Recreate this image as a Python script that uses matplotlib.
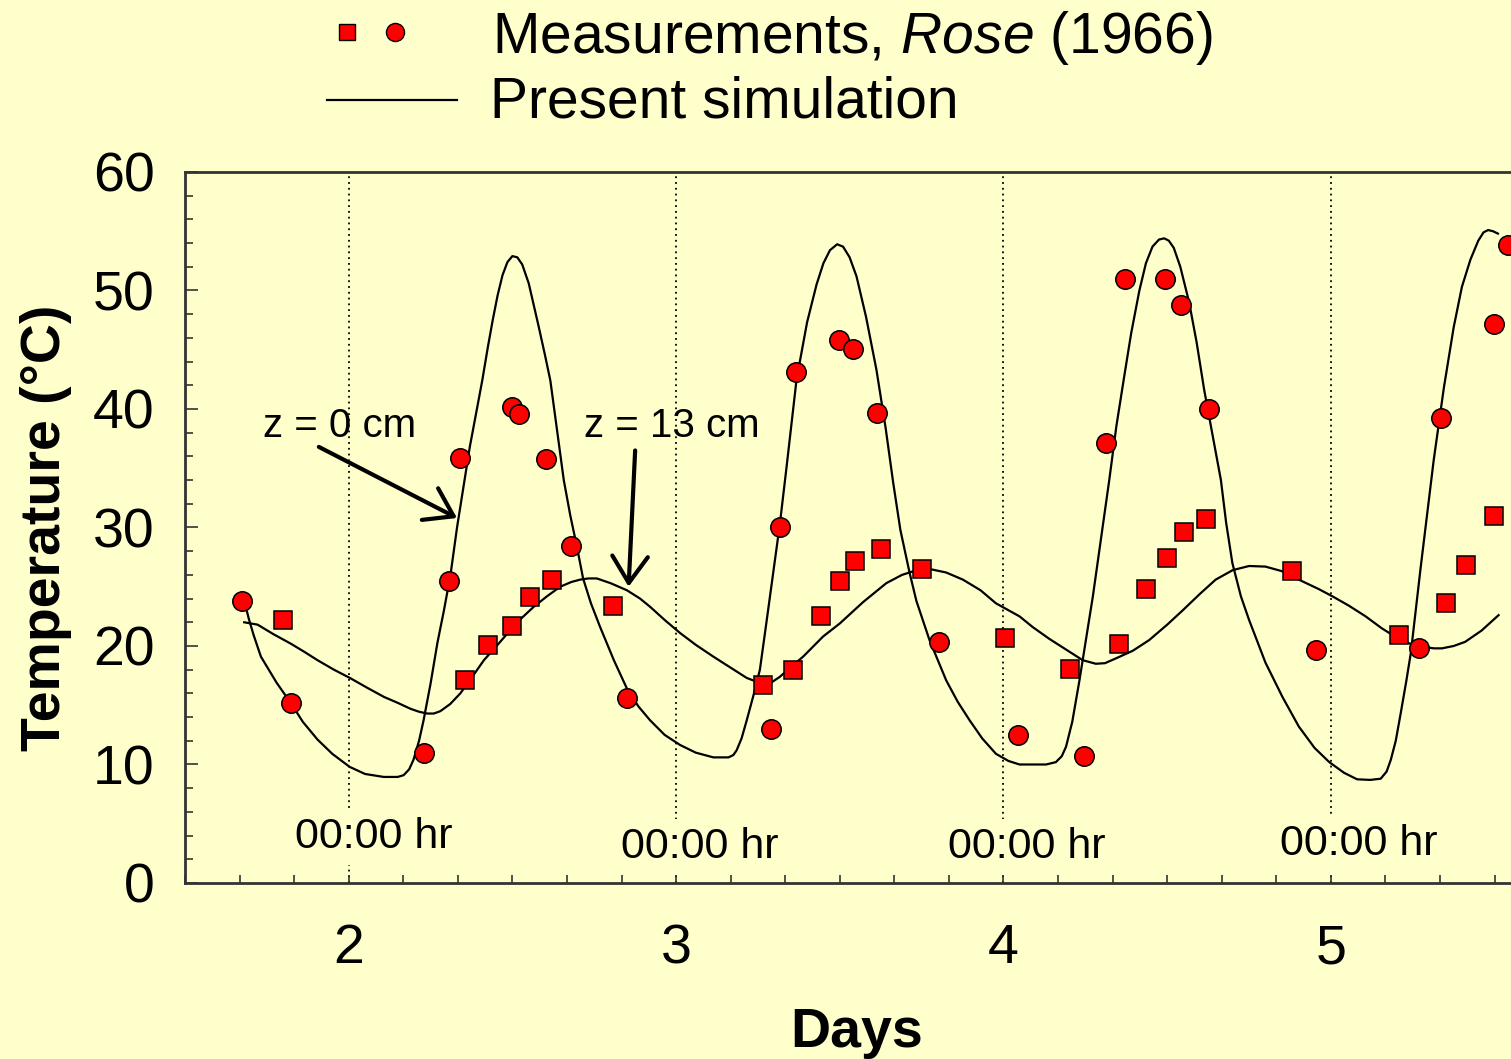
import matplotlib
matplotlib.use("Agg")
import matplotlib.pyplot as plt
from matplotlib.lines import Line2D
from matplotlib.ticker import MultipleLocator

plt.rcParams['font.family'] = ['Liberation Sans', 'DejaVu Sans']
plt.rcParams['mathtext.fontset'] = 'custom'
plt.rcParams['mathtext.rm'] = 'Liberation Sans'
plt.rcParams['mathtext.it'] = 'Liberation Sans:italic'

BG = '#FFFFCC'

# measured surface temperature (z = 0 cm), circles
days_z0 = [1.674, 1.823, 2.229, 2.305, 2.341, 2.500, 2.521, 2.602, 2.678, 2.851,
           3.291, 3.317, 3.366, 3.499, 3.540, 3.613, 3.802, 4.044, 4.247, 4.314,
           4.372, 4.494, 4.543, 4.628, 4.955, 5.268, 5.335, 5.497, 5.540]
temp_z0 = [23.8, 15.2, 11.0, 25.5, 35.9, 40.2, 39.6, 35.8, 28.4, 15.6,
           13.0, 30.0, 43.1, 45.8, 45.1, 39.7, 20.3, 12.5, 10.7, 37.1,
           51.0, 51.0, 48.8, 40.0, 19.7, 19.8, 39.2, 47.2, 53.8]

# measured temperature at z = 13 cm, squares
days_z13 = [1.798, 2.354, 2.426, 2.500, 2.555, 2.621, 2.808,
            3.267, 3.356, 3.443, 3.500, 3.546, 3.625, 3.750,
            4.006, 4.204, 4.354, 4.436, 4.498, 4.550, 4.620, 4.881,
            5.209, 5.353, 5.414, 5.497]
temp_z13 = [22.2, 17.1, 20.05, 21.7, 24.15, 25.6, 23.4,
            16.7, 18.0, 22.5, 25.5, 27.2, 28.2, 26.5,
            20.7, 18.1, 20.2, 24.85, 27.45, 29.65, 30.75, 26.3,
            20.9, 23.65, 26.8, 31.0]

# simulated surface temperature
sim_days_z0 = [1.683, 1.695, 1.710, 1.732, 1.780, 1.823, 1.860, 1.905, 1.950, 2.003,
               2.050, 2.107, 2.150, 2.168, 2.185, 2.198, 2.215, 2.229, 2.250, 2.271,
               2.291, 2.311, 2.331, 2.370, 2.408, 2.425, 2.440, 2.455, 2.470, 2.485,
               2.500, 2.515, 2.530, 2.550, 2.580, 2.600, 2.616, 2.636, 2.657, 2.677,
               2.697, 2.716, 2.740, 2.768, 2.810, 2.850, 2.885, 2.920, 2.965, 3.012,
               3.060, 3.114, 3.160, 3.175, 3.185, 3.200, 3.216, 3.236, 3.256, 3.276,
               3.317, 3.337, 3.368, 3.400, 3.429, 3.450, 3.470, 3.492, 3.510, 3.530,
               3.551, 3.580, 3.612, 3.640, 3.663, 3.685, 3.713, 3.734, 3.774, 3.825,
               3.860, 3.896, 3.935, 3.977, 4.015, 4.049, 4.089, 4.130, 4.160, 4.178,
               4.191, 4.210, 4.232, 4.250, 4.273, 4.300, 4.323, 4.345, 4.369, 4.390,
               4.415, 4.435, 4.455, 4.475, 4.491, 4.505, 4.520, 4.540, 4.567, 4.590,
               4.613, 4.640, 4.664, 4.680, 4.699, 4.725, 4.750, 4.800, 4.852, 4.902,
               4.950, 4.995, 5.040, 5.080, 5.120, 5.152, 5.170, 5.183, 5.198, 5.213,
               5.230, 5.244, 5.274, 5.314, 5.345, 5.375, 5.400, 5.426, 5.450, 5.466,
               5.480, 5.495, 5.510]
sim_temp_z0 = [23.6, 22.3, 20.9, 19.1, 16.9, 15.2, 13.6, 12.1, 10.9, 9.8,
               9.2, 8.95, 8.95, 9.1, 9.6, 10.4, 12.0, 13.75, 16.8, 20.25,
               23.0, 26.0, 30.0, 36.8, 42.4, 45.2, 47.5, 49.6, 51.3, 52.4,
               52.9, 52.8, 52.2, 50.6, 47.0, 44.5, 42.4, 38.3, 34.0, 31.0,
               28.4, 25.7, 23.6, 21.6, 18.8, 16.4, 14.9, 13.75, 12.5, 11.65,
               11.0, 10.6, 10.6, 10.8, 11.2, 12.2, 13.75, 15.8, 18.0, 22.0,
               30.3, 35.0, 42.5, 47.3, 50.5, 52.3, 53.4, 53.9, 53.7, 52.8,
               51.2, 47.8, 43.3, 38.4, 33.8, 29.8, 26.2, 23.8, 20.5, 17.1,
               15.3, 13.75, 12.2, 10.9, 10.3, 10.0, 10.0, 10.0, 10.2, 10.7,
               11.5, 13.6, 17.1, 20.2, 24.2, 29.5, 34.0, 38.6, 42.8, 46.4,
               50.0, 52.3, 53.7, 54.3, 54.4, 54.2, 53.6, 52.0, 49.0, 45.6,
               41.6, 37.6, 34.0, 30.4, 27.0, 24.2, 22.2, 18.6, 15.7, 13.2,
               11.4, 10.2, 9.3, 8.75, 8.7, 8.8, 9.4, 10.4, 12.0, 14.3,
               17.0, 19.4, 26.6, 35.7, 41.8, 46.9, 50.3, 52.6, 54.2, 54.9,
               55.1, 55.0, 54.8]

# simulated temperature at z = 13 cm
sim_days_z13 = [1.681, 1.722, 1.770, 1.823, 1.865, 1.905, 1.955, 2.004, 2.055, 2.108,
                2.150, 2.189, 2.215, 2.240, 2.260, 2.280, 2.310, 2.341, 2.375, 2.413,
                2.455, 2.494, 2.530, 2.565, 2.606, 2.646, 2.680, 2.707, 2.732, 2.758,
                2.800, 2.850, 2.890, 2.921, 2.965, 3.012, 3.060, 3.114, 3.165, 3.216,
                3.245, 3.266, 3.290, 3.317, 3.350, 3.388, 3.449, 3.500, 3.571, 3.642,
                3.690, 3.724, 3.750, 3.774, 3.825, 3.876, 3.930, 3.977, 4.049, 4.089,
                4.140, 4.191, 4.242, 4.282, 4.310, 4.343, 4.395, 4.445, 4.500, 4.547,
                4.600, 4.648, 4.700, 4.750, 4.800, 4.852, 4.902, 4.963, 5.004, 5.055,
                5.106, 5.155, 5.207, 5.250, 5.288, 5.315, 5.339, 5.375, 5.410, 5.460,
                5.512]
sim_temp_z13 = [22.0, 21.8, 21.0, 20.2, 19.5, 18.8, 18.0, 17.3, 16.5, 15.7,
                15.2, 14.7, 14.45, 14.3, 14.3, 14.5, 15.1, 16.0, 17.3, 18.8,
                20.1, 21.35, 22.4, 23.3, 24.2, 25.0, 25.4, 25.6, 25.7, 25.7,
                25.3, 24.7, 24.0, 23.3, 22.2, 21.1, 20.1, 19.1, 18.2, 17.3,
                17.0, 16.8, 16.9, 17.4, 18.2, 19.1, 20.8, 21.9, 23.7, 25.3,
                26.0, 26.3, 26.45, 26.5, 26.2, 25.6, 24.7, 23.6, 22.5, 21.6,
                20.6, 19.7, 18.8, 18.5, 18.55, 18.95, 19.6, 20.5, 21.8, 23.0,
                24.4, 25.6, 26.4, 26.75, 26.7, 26.3, 25.6, 24.8, 24.2, 23.4,
                22.5, 21.5, 20.6, 20.1, 19.9, 19.8, 19.8, 20.0, 20.35, 21.3,
                22.6]

midnight_days = [2, 3, 4, 5]
midnight_label_pos = [(2.076, 2.95), (3.073, 2.1), (4.070, 2.1), (5.085, 2.35)]

fig = plt.figure(figsize=(15.11, 10.59), dpi=100, facecolor=BG)
ax = fig.add_axes([0.1224, 0.1662, 0.8776, 0.6714], facecolor=BG)

for d in midnight_days:
    ax.axvline(d, color='black', lw=1.3, ls=(0, (1, 2.2)), zorder=1)
for (x, y) in midnight_label_pos:
    ax.text(x, y, '00:00 hr', fontsize=31, ha='center', va='baseline', zorder=2,
            bbox=dict(facecolor=BG, edgecolor='none', pad=6))

ax.plot(sim_days_z0, sim_temp_z0, color='black', lw=1.6, zorder=3,
        solid_joinstyle='round')
ax.plot(sim_days_z13, sim_temp_z13, color='black', lw=1.6, zorder=3,
        solid_joinstyle='round')

ax.plot(days_z13, temp_z13, ls='none', marker='s', ms=12.5, mfc='#FF0000',
        mec='black', mew=1.1, zorder=4)
ax.plot(days_z0, temp_z0, ls='none', marker='o', ms=14, mfc='#FF0000',
        mec='black', mew=1.1, zorder=5)

# depth annotations
ax.text(1.973, 37.6, 'z = 0 cm', fontsize=29, ha='center', va='baseline')
ax.text(2.988, 37.6, 'z = 13 cm', fontsize=29, ha='center', va='baseline')
arrow_style = dict(arrowstyle='->,head_length=0.6,head_width=0.4', lw=3,
                   color='black', mutation_scale=32, shrinkA=0, shrinkB=0)
ax.annotate('', xy=(2.331, 30.8), xytext=(1.909, 36.8), arrowprops=arrow_style, zorder=6)
ax.annotate('', xy=(2.855, 25.0), xytext=(2.875, 36.5), arrowprops=arrow_style, zorder=6)

ax.set_xlim(1.5, 5.55)
ax.set_ylim(0, 60)
ax.xaxis.set_major_locator(MultipleLocator(1))
ax.xaxis.set_minor_locator(MultipleLocator(1 / 6))
ax.yaxis.set_major_locator(MultipleLocator(10))
ax.yaxis.set_minor_locator(MultipleLocator(2))
ax.tick_params(axis='x', which='both', direction='in', length=6, width=1.2,
               color='#333333', labelsize=40, pad=29)
ax.tick_params(axis='y', which='major', direction='in', length=9.5, width=1.2,
               color='#333333', labelsize=40, pad=22)
ax.tick_params(axis='y', which='minor', direction='in', length=5.8, width=1.2,
               color='#333333')
ax.tick_params(top=False, right=False, which='both')

for side in ['left', 'bottom', 'top']:
    ax.spines[side].set_linewidth(2)
    ax.spines[side].set_color('#333333')
ax.spines['right'].set_visible(False)

fig.text(857 / 1511, 12 / 1059, 'Days', fontsize=40, fontweight='bold',
         ha='center', va='baseline')
fig.text(60 / 1511, 1 - 528 / 1059, 'Temperature (°C)', fontsize=40,
         fontweight='bold', rotation=90, rotation_mode='anchor',
         ha='center', va='baseline')

# legend drawn above the axes
fig.add_artist(Line2D([347 / 1511], [1 - 32 / 1059], ls='none', marker='s', ms=11.5,
                      mfc='#FF0000', mec='black', mew=1.0))
fig.add_artist(Line2D([395 / 1511], [1 - 32 / 1059], ls='none', marker='o', ms=13,
                      mfc='#FF0000', mec='black', mew=1.0))
fig.add_artist(Line2D([327 / 1511, 457 / 1511], [1 - 100 / 1059, 1 - 100 / 1059],
                      color='black', lw=1.6))
fig.text(492 / 1511, 1 - 53 / 1059, r'Measurements, $\it{Rose}$ (1966)',
         fontsize=41, ha='left', va='baseline')
fig.text(490 / 1511, 1 - 118 / 1059, 'Present simulation',
         fontsize=41, ha='left', va='baseline')

fig.savefig('out.png', dpi=100, facecolor=BG)
